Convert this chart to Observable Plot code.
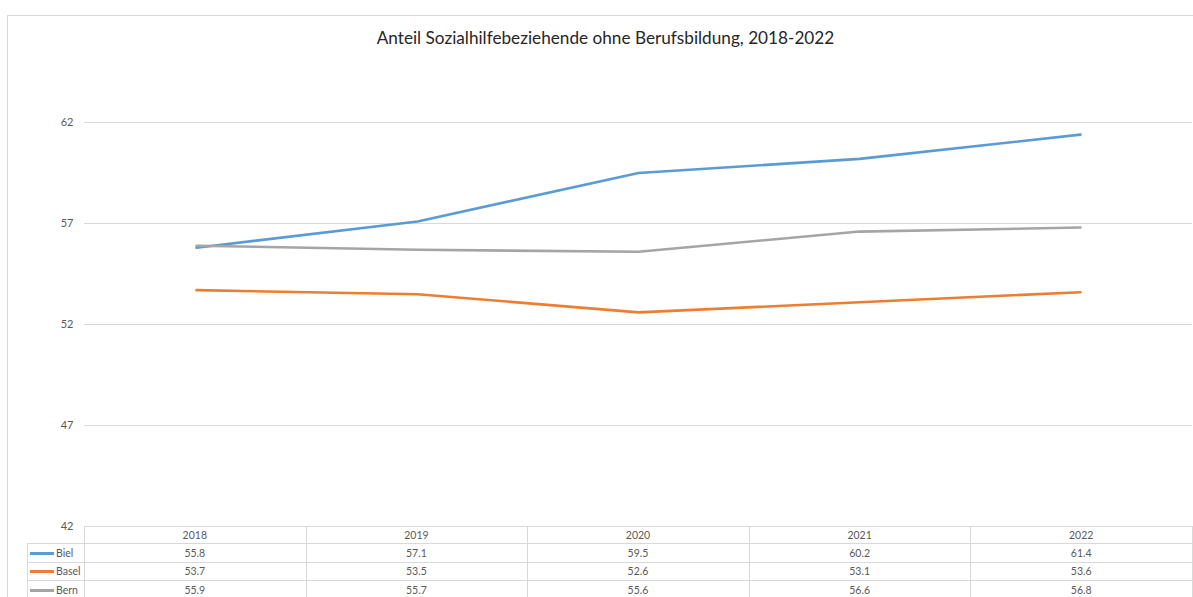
<!DOCTYPE html>
<html>
<head>
<meta charset="utf-8">
<script src="https://cdn.jsdelivr.net/npm/d3@7"></script>
<script src="https://cdn.jsdelivr.net/npm/@observablehq/plot@0.6"></script>
<style>
  html, body { margin: 0; padding: 0; background: #fff; }
  #wrap { position: relative; width: 1193px; height: 597px; overflow: hidden; font-family: Lato, "Open Sans", sans-serif; }
  #frame { position: absolute; left: 7px; top: 15px; width: 1200px; height: 700px; border-left: 1px solid #d9d9d9; border-top: 1px solid #d9d9d9; }
  #title { position: absolute; left: 0; top: 27px; width: 1211px; text-align: center; font-size: 17.2px; color: #262626; }
  #chart { position: absolute; left: 0; top: 0; }
  .cell { position: absolute; box-sizing: border-box; font-size: 10.5px; color: #595959; text-align: center; line-height: 17px; }
  .hline { position: absolute; height: 1px; background: #d9d9d9; }
  .vline { position: absolute; width: 1px; background: #d9d9d9; }
  .leg { position: absolute; font-size: 10.5px; color: #595959; line-height: 17px; }
  .legsw { position: absolute; height: 3px; }
</style>
</head>
<body>
<div id="wrap">
  <div id="frame"></div>
  <div id="title">Anteil Sozialhilfebeziehende ohne Berufsbildung, 2018-2022</div>
  <div id="chart"></div>
</div>
<script>
const years = ["2018", "2019", "2020", "2021", "2022"];
const seriesNames = ["Biel", "Basel", "Bern"];
const biel = [55.8, 57.1, 59.5, 60.2, 61.4];
const basel = [53.7, 53.5, 52.6, 53.1, 53.6];
const bern = [55.9, 55.7, 55.6, 56.6, 56.8];
const yTicks = [42, 47, 52, 57, 62];
const colors = ["#5b9bd5", "#ed7d31", "#a5a5a5"];

const seriesValues = [biel, basel, bern];
const data = [];
seriesNames.forEach((name, s) => {
  years.forEach((yr, i) => data.push({ series: name, year: yr, value: seriesValues[s][i] }));
});

const W = 1193, left = 84, right = 1192;
const plot = Plot.plot({
  width: W,
  height: 540,
  marginLeft: left,
  marginRight: W - right,
  marginTop: 122,
  marginBottom: 14,
  style: { fontFamily: "Lato, 'Open Sans', sans-serif", fontSize: "11px", color: "#595959", background: "transparent" },
  x: { type: "point", domain: years, padding: 0.5, axis: null },
  y: { domain: [42, 62], ticks: yTicks },
  color: { domain: seriesNames, range: colors },
  marks: [
    Plot.ruleY(yTicks, { stroke: "#d9d9d9", strokeWidth: 1 }),
    Plot.axisY({ ticks: yTicks, tickSize: 0, tickPadding: 11, label: null, tickFormat: d => String(d), fill: "#595959" }),
    Plot.line(data, { x: "year", y: "value", z: "series", stroke: "series", strokeWidth: 2.6, strokeLinecap: "round", strokeLinejoin: "round" })
  ]
});
document.getElementById("chart").appendChild(plot);

// data table below the plot
const wrap = document.getElementById("wrap");
const step = (right - left) / years.length;
const rowTops = [526, 543, 562, 580, 599];
const legLeft = 27;
function add(cls, styles, text) {
  const d = document.createElement("div");
  d.className = cls;
  Object.assign(d.style, styles);
  if (text != null) d.textContent = text;
  wrap.appendChild(d);
  return d;
}
add("hline", { left: left + "px", top: rowTops[0] + "px", width: (right - left + 1) + "px" });
for (let r = 1; r < rowTops.length; r++) {
  add("hline", { left: legLeft + "px", top: rowTops[r] + "px", width: (right - legLeft + 1) + "px" });
}
for (let c = 0; c <= years.length; c++) {
  const x = Math.round(left + c * step);
  add("vline", { left: x + "px", top: rowTops[0] + "px", height: (rowTops[4] - rowTops[0]) + "px" });
}
add("vline", { left: legLeft + "px", top: rowTops[1] + "px", height: (rowTops[4] - rowTops[1]) + "px" });
years.forEach((yr, c) => {
  add("cell", { left: (left + c * step) + "px", top: (rowTops[0]) + "px", width: step + "px", height: (rowTops[1] - rowTops[0]) + "px", lineHeight: (rowTops[1] - rowTops[0] + 1) + "px" }, yr);
});
seriesNames.forEach((name, s) => {
  const top = rowTops[s + 1], h = rowTops[s + 2] - top;
  add("legsw", { left: "30px", top: (top + h / 2 - 1) + "px", width: "24px", background: colors[s] });
  add("leg", { left: "56px", top: top + "px", lineHeight: (h + 1) + "px" }, name);
  seriesValues[s].forEach((v, c) => {
    add("cell", { left: (left + c * step) + "px", top: top + "px", width: step + "px", height: h + "px", lineHeight: (h + 1) + "px" }, v.toFixed(1));
  });
});
</script>
</body>
</html>
